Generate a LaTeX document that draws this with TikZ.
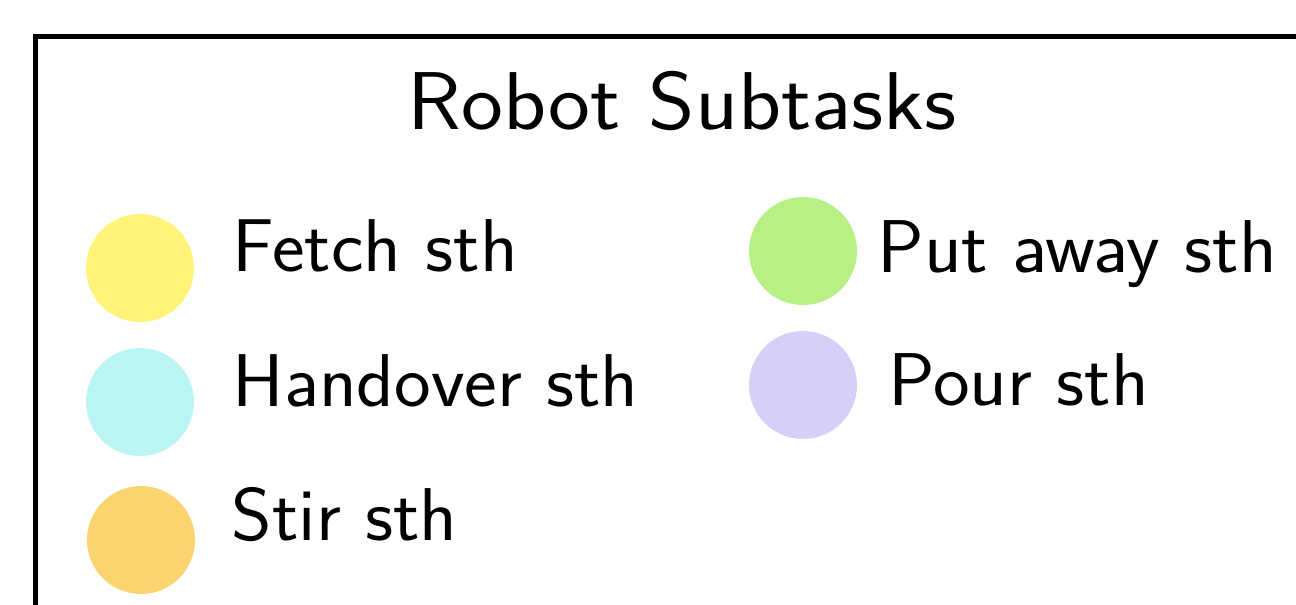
\documentclass[tikz,border=0pt]{standalone}
\usepackage{tikz}
\usetikzlibrary{positioning,calc}
\definecolor{fetchcol}{RGB}{255,243,122}
\definecolor{handcol}{RGB}{187,245,243}
\definecolor{stircol}{RGB}{250,212,110}
\definecolor{putcol}{RGB}{183,240,133}
\definecolor{pourcol}{RGB}{215,207,247}
\tikzset{
  frame/.style={draw, line width=1.25pt},
  dot/.style={circle, draw=none, minimum size=27pt, inner sep=0pt},
  lbl/.style={inner sep=0pt, xscale=1.04, transform shape, font=\sffamily\fontsize{18.7}{22}\selectfont},
  ttl/.style={inner sep=0pt, xscale=1.085, transform shape, font=\sffamily\fontsize{20.5}{24}\selectfont},
}

\begin{document}
\begin{tikzpicture}[x=0.25pt, y=-0.25pt]
  \useasboundingbox (0,0) rectangle (1296,604);
  \clip (0,0) rectangle (1296,604);
  % legend frame (runs off the right and bottom edge)
  \draw[frame] (35.5,36.5) rectangle (1400,700);
  \node[ttl, anchor=base] (title) at (682,129) {Robot Subtasks};

  % colour dots
  \node[dot, fill=fetchcol] (fetch) at (140,268) {};
  \node[dot, fill=handcol] (hand) at (140,402) {};
  \node[dot, fill=stircol] (stir) at (141,540) {};
  \node[dot, fill=putcol] (put) at (803,251) {};
  \node[dot, fill=pourcol] (pour) at (803,385) {};

  % labels
  \node[lbl, anchor=base west] (fetchtxt) at ($(fetch.east)+(37,3)$) {Fetch sth};
  \node[lbl, anchor=base west] (handtxt) at ($(hand.east)+(37,4)$) {Handover sth};
  \node[lbl, anchor=base west] (stirtxt) at ($(stir.east)+(35,0)$) {Stir sth};
  \node[lbl, anchor=base west] (puttxt) at ($(put.east)+(19,21)$) {Put away sth};
  \node[lbl, anchor=base west] (pourtxt) at ($(pour.east)+(30,20)$) {Pour sth};
\end{tikzpicture}
\end{document}
